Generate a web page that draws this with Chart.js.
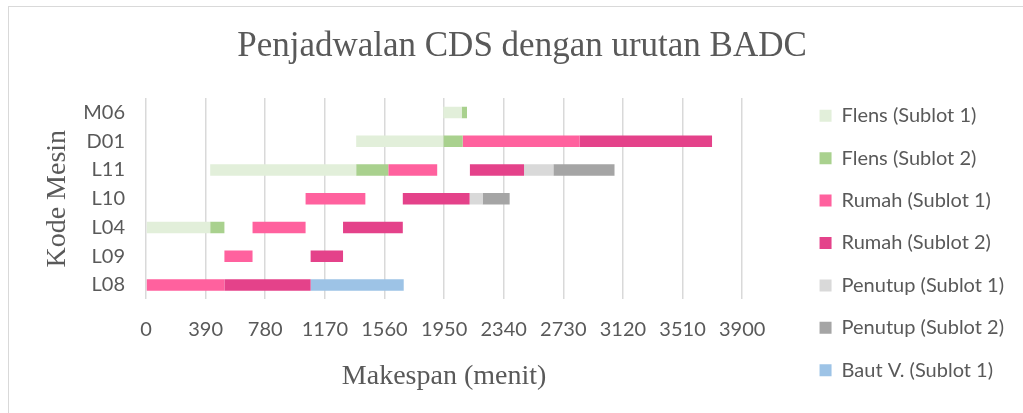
<!DOCTYPE html>
<html>
<head>
<meta charset="utf-8">
<script src="https://cdn.jsdelivr.net/npm/chart.js@4"></script>
<style>
  body { margin: 0; overflow: hidden; background: #fff; }
  #bingkai {
    position: absolute; left: 8px; top: 6px; width: 1100px; height: 500px;
    border: 1.5px solid #d9d9d9; pointer-events: none;
  }
</style>
</head>
<body>
<canvas id="gantt" width="1023" height="413"></canvas>
<div id="bingkai"></div>
<script>
// kode mesin (atas ke bawah)
const kodeMesin = ["M06", "D01", "L11", "L10", "L04", "L09", "L08"];

// [mulai, selesai] dalam menit, null = tidak ada
const flensSub1 = [[1945, 2065], [1375, 1945], [420, 1375], null, [0, 420], null, null];
const flensSub2 = [[2065, 2100], [1945, 2072], [1375, 1585], null, [420, 513], null, null];
const rumahSub1 = [null, [2072, 2836], [1585, 1905], [1044, 1435], [697, 1044], [513, 697], [0, 513]];
const rumahSub2 = [null, [2836, 3703], [2119, 2473], [1680, 2117], [1289, 1680], [1077, 1289], [513, 1077]];
const penutupSub1 = [null, null, [2473, 2665], [2117, 2202], null, null, null];
const penutupSub2 = [null, null, [2665, 3065], [2202, 2379], null, null, null];
const bautSub1 = [null, null, null, null, null, null, [1077, 1686]];

// sumbu x
const xMin = 0;
const xMax = 3900;
const xStep = 390;

const abu = "#595959";
const sans = "Lato";
const serif = "Liberation Serif";

const datasets = [
  { label: "Flens (Sublot 1)", data: flensSub1, backgroundColor: "#e2efda" },
  { label: "Flens (Sublot 2)", data: flensSub2, backgroundColor: "#a9d18e" },
  { label: "Rumah (Sublot 1)", data: rumahSub1, backgroundColor: "#ff619e" },
  { label: "Rumah (Sublot 2)", data: rumahSub2, backgroundColor: "#e4428a" },
  { label: "Penutup (Sublot 1)", data: penutupSub1, backgroundColor: "#d9d9d9" },
  { label: "Penutup (Sublot 2)", data: penutupSub2, backgroundColor: "#a5a5a5" },
  { label: "Baut V. (Sublot 1)", data: bautSub1, backgroundColor: "#9dc3e6" },
].map((d) => ({
  ...d,
  grouped: false,
  borderWidth: 0,
  barPercentage: 0.4,
  categoryPercentage: 1.0,
  yAxisID: "y",
}));

const config = {
  type: "bar",
  data: {
    labels: kodeMesin,
    datasets,
  },
  options: {
    indexAxis: "y",
    responsive: false,
    animation: false,
    devicePixelRatio: 1,
    layout: {
      padding: { left: 30, right: 9, top: 0, bottom: 0 },
    },
    plugins: {
      tooltip: { enabled: false },
      title: {
        display: true,
        text: "Penjadwalan CDS dengan urutan BADC",
        color: abu,
        font: { family: serif, size: 35, weight: "normal" },
        padding: { top: 26, bottom: 30 },
      },
      legend: {
        position: "right",
        maxWidth: 218,
        title: {
          display: true,
          text: " ",
          font: { family: sans, size: 20 },
          padding: { top: 0, bottom: 49 },
        },
        labels: {
          color: abu,
          font: { family: sans, size: 20 },
          boxWidth: 12,
          boxHeight: 12,
          padding: 22.4,
        },
      },
    },
    scales: {
      x: {
        type: "linear",
        min: xMin,
        max: xMax,
        grid: { color: "#d9d9d9", lineWidth: 1.5, drawTicks: false },
        border: { display: false },
        ticks: {
          stepSize: xStep,
          color: abu,
          font: { family: sans, size: 20 },
          padding: 18,
          maxRotation: 0,
          callback: (v) => String(v),
        },
        title: {
          display: true,
          text: "Makespan (menit)",
          color: abu,
          font: { family: serif, size: 28 },
          padding: { top: 0, bottom: 20 },
        },
      },
      y: {
        type: "category",
        grid: { display: false, drawTicks: false },
        border: { display: false },
        ticks: {
          color: abu,
          font: { family: sans, size: 20 },
          padding: 21,
          autoSkip: false,
        },
        title: {
          display: true,
          text: "Kode Mesin",
          color: abu,
          font: { family: serif, size: 28, lineHeight: 1 },
          padding: { top: 14, bottom: 0 },
        },
        afterFit: (s) => {
          s.width = 116;
        },
      },
      // jarak kosong antara plot dan legenda
      jarak: {
        axis: "y",
        type: "linear",
        position: "right",
        grid: { display: false, drawTicks: false },
        border: { display: false },
        ticks: { display: false },
        afterFit: (s) => {
          s.width = 55;
        },
      },
    },
  },
};

const canvas = document.getElementById("gantt");
const chart = new Chart(canvas, config);
</script>
</body>
</html>
